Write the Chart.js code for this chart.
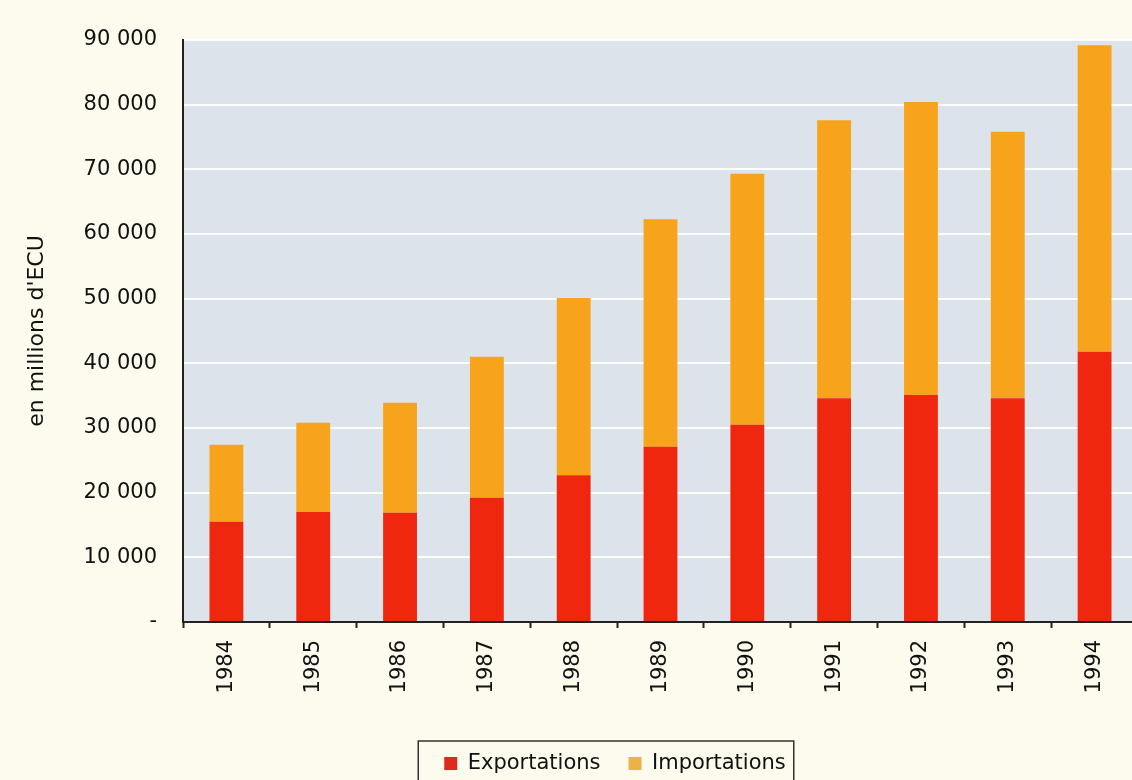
<!DOCTYPE html>
<html>
<head>
<meta charset="utf-8">
<script src="https://cdn.jsdelivr.net/npm/chart.js@4/dist/chart.umd.min.js"></script>
<style>
  html, body { margin: 0; padding: 0; background: #fcfbee; overflow: hidden; width: 1132px; height: 780px; }
  #wrap { width: 1140px; height: 780px; }
</style>
</head>
<body>
<div id="wrap"><canvas id="chart" width="1140" height="780"></canvas></div>
<script>
// Commerce extérieur, en millions d'ECU
const years = ['1984', '1985', '1986', '1987', '1988', '1989', '1990', '1991', '1992', '1993', '1994'];
const exportations = [15500, 17000, 16900, 19200, 22700, 27100, 30500, 34600, 35100, 34600, 41800];
const importations = [11900, 13800, 17000, 21800, 27400, 35200, 38800, 43000, 45300, 41200, 47400];
const yTicks = [0, 10000, 20000, 30000, 40000, 50000, 60000, 70000, 80000, 90000];

const fmt = v => v === 0 ? '-' : String(v).replace(/\B(?=(\d{3})+(?!\d))/g, ' ');
const legendSwatches = ['#dd2a1c', '#eab24a'];

Chart.defaults.font.family = '"DejaVu Sans", sans-serif';
Chart.defaults.color = '#111';

// Page and plot-area backgrounds, plus the framed legend.
const decor = {
  id: 'decor',
  afterLayout(chart) {
    const lg = chart.legend;
    const dx = 46, dy = 4;
    lg.left += dx; lg.right += dx;
    lg.top += dy; lg.bottom += dy;
  },
  beforeDraw(chart) {
    const { ctx, chartArea: a } = chart;
    ctx.save();
    ctx.fillStyle = '#fcfbee';
    ctx.fillRect(0, 0, chart.width, chart.height);
    ctx.fillStyle = '#dde3ea';
    ctx.fillRect(a.left, a.top, a.right - a.left, a.bottom - a.top);
    ctx.restore();
  },
  afterDraw(chart) {
    const hb = chart.legend.legendHitBoxes;
    if (!hb || !hb.length) return;
    const first = hb[0], last = hb[hb.length - 1];
    const ctx = chart.ctx;
    ctx.save();
    ctx.strokeStyle = '#333';
    ctx.lineWidth = 1.5;
    const l = first.left - 26, r = last.left + last.width + 8;
    const t = first.top - 12;
    ctx.strokeRect(l, t, r - l, chart.height + 10 - t);
    ctx.restore();
  }
};

new Chart(document.getElementById('chart'), {
  type: 'bar',
  data: {
    labels: years,
    datasets: [
      { label: 'Exportations', data: exportations, backgroundColor: '#f0270f' },
      { label: 'Importations', data: importations, backgroundColor: '#f8a31c' }
    ]
  },
  options: {
    responsive: false,
    animation: false,
    layout: { padding: { top: 40, right: 2, left: 0, bottom: 0 } },
    datasets: { bar: { categoryPercentage: 1, barPercentage: 0.39 } },
    plugins: {
      legend: {
        position: 'bottom',
        labels: {
          boxWidth: 13, boxHeight: 13, padding: 28, font: { size: 21 }, color: '#111',
          generateLabels(chart) {
            const items = Chart.defaults.plugins.legend.labels.generateLabels(chart);
            items.forEach((it, i) => { it.fillStyle = legendSwatches[i]; it.strokeStyle = legendSwatches[i]; it.lineWidth = 0; });
            return items;
          }
        }
      },
      tooltip: { enabled: false }
    },
    scales: {
      x: {
        stacked: true,
        grid: { display: true, color: 'rgba(0,0,0,0)', tickColor: '#222', tickLength: 6, tickWidth: 2 },
        border: { display: true, color: '#222', width: 2 },
        ticks: { minRotation: 90, maxRotation: 90, padding: 12, font: { size: 21 }, color: '#111' },
        afterFit(scale) { scale.height = 99; }
      },
      y: {
        stacked: true,
        min: 0,
        max: 90000,
        afterBuildTicks(scale) { scale.ticks = yTicks.map(v => ({ value: v })); },
        grid: { color: 'rgba(255,255,255,0.9)', lineWidth: 2, drawTicks: false },
        border: { display: true, color: '#222', width: 2 },
        ticks: { padding: 26, font: { size: 21 }, color: '#111', callback: v => fmt(v) },
        title: { display: true, text: "en millions d'ECU", font: { size: 22 }, color: '#111', padding: { top: 24, bottom: 0 } },
        afterFit(scale) { scale.width = 183; }
      }
    }
  },
  plugins: [decor]
});
</script>
</body>
</html>
